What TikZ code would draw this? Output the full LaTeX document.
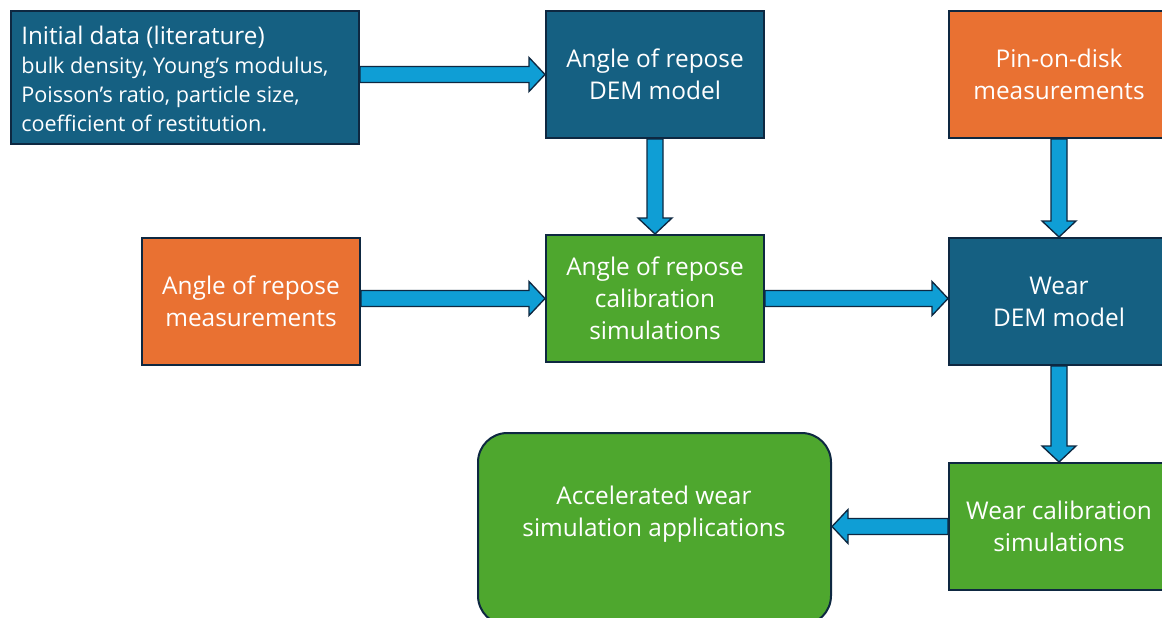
\documentclass[tikz,border=0pt]{standalone}
\usepackage{fontspec}
\setmainfont{Open Sans}
\usetikzlibrary{calc}
\definecolor{dblue}{HTML}{156082}
\definecolor{orng}{HTML}{E97132}
\definecolor{grn}{HTML}{4EA72E}
\definecolor{abl}{HTML}{0F9ED5}
\definecolor{edge}{HTML}{0E2841}
\newcommand{\subtxt}{\fontsize{16.2}{21.75}\selectfont}
\tikzset{
  box/.style={draw=edge, line width=1.5pt, text=white, align=center,
    minimum width=163.5pt, minimum height=95.25pt, inner sep=2pt,
    font=\fontsize{18.3}{24}\selectfont},
  bluebox/.style={box, fill=dblue},
  orbox/.style={box, fill=orng},
  grbox/.style={box, fill=grn},
  txt/.style={text=white, inner sep=0pt},
  barr/.style={draw=edge, fill=abl, line width=1pt, line join=miter},
  rarr/.style={barr, to path={let \p1=(\tikztostart),\p2=(\tikztotarget) in
    (\x1,\y2-6pt) -- (\x2-12pt,\y2-6pt) -- (\x2-12pt,\y2-12.75pt) -- (\x2,\y2)
    -- (\x2-12pt,\y2+12.75pt) -- (\x2-12pt,\y2+6pt) -- (\x1,\y2+6pt) -- cycle}},
  larr/.style={barr, to path={let \p1=(\tikztostart),\p2=(\tikztotarget) in
    (\x1,\y2-6pt) -- (\x2+12pt,\y2-6pt) -- (\x2+12pt,\y2-12.75pt) -- (\x2,\y2)
    -- (\x2+12pt,\y2+12.75pt) -- (\x2+12pt,\y2+6pt) -- (\x1,\y2+6pt) -- cycle}},
  darr/.style={barr, to path={let \p1=(\tikztostart),\p2=(\tikztotarget) in
    (\x2-6pt,\y1) -- (\x2-6pt,\y2+12pt) -- (\x2-12.75pt,\y2+12pt) -- (\x2,\y2)
    -- (\x2+12.75pt,\y2+12pt) -- (\x2+6pt,\y2+12pt) -- (\x2+6pt,\y1) -- cycle}},
}
\begin{document}
\begin{tikzpicture}[x=0.75pt,y=-0.75pt]
\useasboundingbox (0,0) rectangle (1162,617);
\fill[white] (0,0) rectangle (1162,617);

\node[bluebox, minimum width=261pt, minimum height=99.75pt] (init) at (185,77.5) {};
\node[txt, anchor=west, align=left, font=\fontsize{18.2}{21.75}\selectfont] (inittext) at (21,78.5)
  {Initial data (literature)\\
   \subtxt bulk density, Young’s modulus,\\
   \subtxt Poisson’s ratio, particle size,\\
   \subtxt coefficient of restitution.};
\node[bluebox] (aordem) at (655,74.5) {Angle of repose\\DEM model};
\node[orbox, minimum width=165pt] (pin) at (1059,74.5) {Pin-on-disk\\measurements};
\node[orbox] (aormeas) at (251,301.5) {Angle of repose\\measurements};
\node[grbox] (cal) at (655,298.5) {Angle of repose\\calibration\\simulations};
\node[bluebox, minimum width=165pt] (weardem) at (1059,301.5) {Wear\\DEM model};
\node[grbox, minimum width=165pt] (wearcal) at (1059,526.5) {Wear calibration\\simulations};
\node[box, fill=grn, rounded corners=22pt, minimum width=264.75pt,
  minimum height=144pt] (acc) at (654.5,529) {};
\node[txt, align=center, font=\fontsize{18.3}{24}\selectfont]
  (acctext) at (654,514) {Accelerated wear\\simulation applications};

\draw[rarr] (init.east |- aordem.west) to (aordem.west);
\draw[rarr] (aormeas.east |- cal.west) to (cal.west);
\draw[rarr] (cal.east) to (weardem.west |- cal.east);
\draw[darr] (aordem.south) to (cal.north);
\draw[darr] (pin.south) to (weardem.north);
\draw[darr] (weardem.south) to (wearcal.north);
\draw[larr] (wearcal.west) to (acc.east |- wearcal.west);
\end{tikzpicture}
\end{document}
